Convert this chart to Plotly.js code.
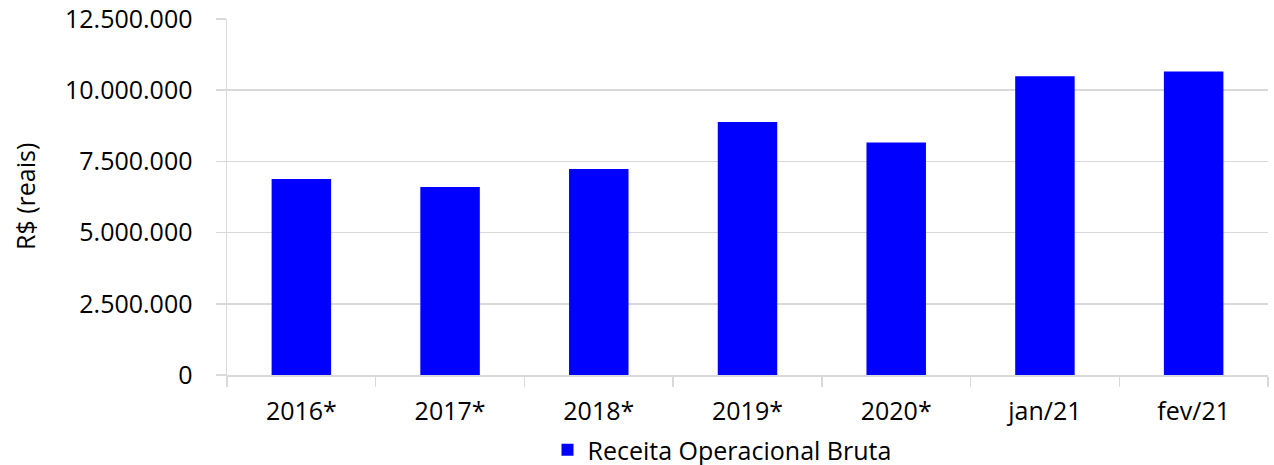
<!DOCTYPE html>
<html>
<head>
<meta charset="utf-8">
<script src="https://cdn.plot.ly/plotly-3.0.1.min.js"></script>
<style>html,body{margin:0;padding:0;background:#fff;}#chart{width:1274px;height:465px;}</style>
</head>
<body>
<div id="chart"></div>
<script>
const categories = ["2016*", "2017*", "2018*", "2019*", "2020*", "jan/21", "fev/21"];
const receitaBruta = [6880000, 6600000, 7230000, 8880000, 8160000, 10490000, 10660000];
const seriesName = "Receita Operacional Bruta";
const yTickVals = [0, 2500000, 5000000, 7500000, 10000000, 12500000];
const yTickText = ["0", "2.500.000", "5.000.000", "7.500.000", "10.000.000", "12.500.000"];
const yTitle = "R$ (reais)";

const FONT = "'Open Sans', sans-serif";
const FS = 25;
const grid = "#d9d9d9";

const trace = {
  type: "bar",
  x: categories,
  y: receitaBruta,
  name: seriesName,
  width: 0.4,
  marker: {color: "#0000ff"},
  showlegend: true,
  hoverinfo: "x+y"
};

const layout = {
  width: 1274, height: 465,
  margin: {l: 227, r: 6, t: 19, b: 90, pad: 0},
  paper_bgcolor: "#fff", plot_bgcolor: "#fff",
  font: {family: FONT, size: FS, color: "#000"},
  showlegend: true,
  bargap: 0.6,
  xaxis: {
    type: "category",
    showgrid: false,
    showline: true, linecolor: grid, linewidth: 1.5,
    ticks: "outside", tickson: "boundaries", ticklen: 10, tickcolor: grid, tickwidth: 1.5,
    tickfont: {family: FONT, size: FS, color: "#000"},
    ticklabelstandoff: 13,
    automargin: false,
    fixedrange: true
  },
  yaxis: {
    range: [0, 12500000],
    tickvals: yTickVals, ticktext: yTickText,
    showgrid: true, gridcolor: grid, gridwidth: 1.5,
    zeroline: false,
    showline: true, linecolor: grid, linewidth: 1.5,
    ticks: "outside", ticklen: 10, tickcolor: grid, tickwidth: 1.5,
    tickfont: {family: FONT, size: FS, color: "#000"},
    ticklabelstandoff: 18,
    automargin: false,
    fixedrange: true
  },
  legend: {
    orientation: "h",
    x: 722 / 1274, xanchor: "center", xref: "container",
    y: 1 - 450 / 465, yanchor: "middle", yref: "container",
    font: {family: FONT, size: FS, color: "#000"},
    itemwidth: 30
  },
  annotations: [{
    text: yTitle, textangle: -90,
    xref: "paper", yref: "paper",
    x: (25 - 227) / 1041, y: 0.5,
    xanchor: "center", yanchor: "middle",
    showarrow: false,
    font: {family: FONT, size: FS, color: "#000"}
  }]
};

Plotly.newPlot("chart", [trace], layout, {displayModeBar: false, staticPlot: true});
</script>
</body>
</html>
